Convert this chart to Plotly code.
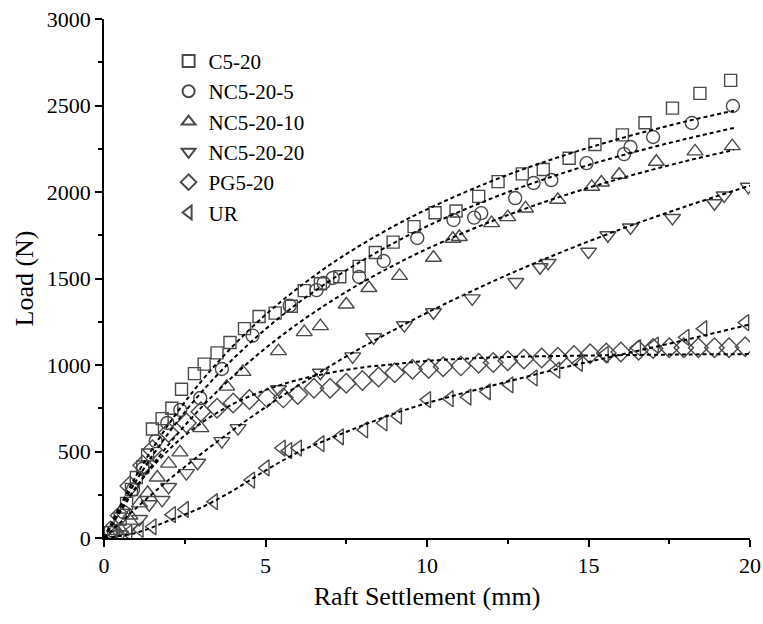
import plotly.graph_objects as go

# ---------------- data ----------------
series_names = ["C5-20", "NC5-20-5", "NC5-20-10", "NC5-20-20", "PG5-20", "UR"]

c5_x = [0.2, 0.5, 0.7, 0.85, 1.0, 1.2, 1.35, 1.5, 1.8, 2.1, 2.4, 2.8, 3.1, 3.5, 3.9, 4.35, 4.8,
        5.3, 5.8, 6.2, 6.7, 7.3, 7.9, 8.4, 8.95, 9.6, 10.25, 10.9, 11.6, 12.2, 12.95, 13.6, 14.4,
        15.2, 16.05, 16.75, 17.6, 18.45, 19.4]
c5_y = [30, 110, 200, 280, 350, 410, 480, 630, 690, 750, 860, 950, 1005, 1070, 1130, 1210, 1280,
        1300, 1340, 1430, 1470, 1510, 1570, 1650, 1710, 1800, 1880, 1890, 1975, 2060, 2105, 2130, 2195,
        2275, 2330, 2400, 2485, 2570, 2645]

nc5_x = [0.3, 0.6, 0.9, 1.2, 1.6, 1.96, 2.36, 2.98, 3.65, 4.6, 5.75, 6.58, 6.8, 7.08, 7.9, 8.66,
         9.7, 10.82, 11.46, 11.68, 12.73, 13.3, 13.85, 14.94, 16.1, 16.3, 17.0, 18.2, 19.47]
nc5_y = [40, 150, 280, 400, 560, 665, 740, 809, 977, 1170, 1343, 1433, 1474, 1503, 1509, 1601,
         1734, 1838, 1852, 1878, 1965, 2052, 2069, 2167, 2219, 2260, 2318, 2399, 2497]

nc10_x = [0.4, 0.8, 1.1, 1.35, 1.65, 2.0, 2.35, 3.0, 3.8, 4.3, 5.4, 6.2, 6.7, 7.5, 8.2, 9.15,
          10.2, 10.8, 11.0, 12.0, 12.5, 13.05, 14.05, 15.1, 15.4, 15.95, 17.1, 18.3, 19.45]
nc10_y = [40, 130, 200, 260, 350, 430, 495, 635, 875, 960, 1080, 1190, 1225, 1350, 1445, 1515,
          1620, 1730, 1740, 1820, 1855, 1905, 1955, 2030, 2055, 2100, 2175, 2235, 2265]

nc20_x = [0.5, 0.8, 1.1, 1.4, 1.8, 2.0, 2.55, 2.9, 3.65, 4.15, 5.4, 6.7, 7.7, 8.35, 9.3, 10.2,
          11.4, 12.75, 13.5, 13.75, 15.0, 15.6, 16.3, 17.6, 18.9, 19.2, 19.95]
nc20_y = [20, 60, 110, 195, 220, 295, 375, 435, 560, 635, 860, 955, 1050, 1160, 1230, 1305,
          1385, 1480, 1565, 1590, 1655, 1750, 1795, 1850, 1935, 1980, 2030]

pg_x = [0.2, 0.5, 0.8, 1.2, 1.5, 2.0, 2.55, 3.0, 3.5, 4.0, 4.5, 5.05, 5.55, 6.0, 6.5, 7.0, 7.5,
        8.0, 8.5, 9.0, 9.55, 10.05, 10.5, 11.05, 11.6, 12.05, 12.5, 13.0, 13.55, 14.05, 14.55,
        15.05, 15.55, 16.0, 16.55, 17.0, 17.5, 17.95, 18.4, 18.9, 19.35, 19.85]
pg_y = [40, 130, 300, 420, 510, 610, 665, 730, 750, 780, 800, 810, 810, 830, 865, 865, 895,
        910, 930, 955, 975, 980, 990, 995, 1010, 1015, 1025, 1035, 1040, 1045, 1055,
        1065, 1070, 1075, 1085, 1095, 1100, 1100, 1100, 1100, 1100, 1105]

ur_x = [0.3, 0.75, 1.1, 1.5, 2.1, 2.5, 3.4, 4.55, 5.0, 5.5, 5.7, 6.0, 6.7, 7.3, 8.05, 8.65, 9.1,
        10.0, 10.7, 11.25, 11.85, 12.55, 13.3, 14.0, 14.7, 15.5, 16.5, 17.05, 18.0, 18.55, 19.85]
ur_y = [10, 30, 50, 65, 135, 165, 210, 335, 405, 520, 505, 520, 545, 585, 625, 665, 705,
        800, 805, 815, 845, 885, 925, 970, 1010, 1060, 1100, 1115, 1160, 1210, 1245]

# fitted (dashed) curves, read at a few settlements
fit_x_a = [0, 1, 2, 3, 4, 5, 6, 7, 8, 9, 10, 12, 14, 16, 18, 19.5]
fit_c5_y = [0, 361, 657, 903, 1111, 1290, 1444, 1580, 1699, 1805, 1900, 2063, 2197, 2310, 2407, 2470]
fit_nc5_y = [0, 332, 607, 839, 1036, 1207, 1357, 1488, 1604, 1708, 1802, 1963, 2097, 2210, 2306, 2370]
fit_nc10_y = [0, 293, 540, 752, 936, 1097, 1239, 1365, 1478, 1579, 1671, 1831, 1965, 2079, 2178, 2243]
fit_x_b = [0, 1, 2, 3, 4, 5, 6, 7, 8, 9, 10, 12, 14, 16, 18, 20]
fit_nc20_y = [0, 174, 335, 485, 625, 756, 879, 994, 1103, 1205, 1302, 1480, 1640, 1785, 1916, 2037]
fit_pg_y = [0, 296, 509, 663, 775, 855, 914, 955, 986, 1005, 1024, 1043, 1052, 1057, 1061, 1063]
fit_ur_y = [0, 30, 100, 175, 275, 390, 495, 575, 650, 720, 780, 880, 975, 1060, 1145, 1235]

x_ticks = [0, 5, 10, 15, 20]
y_ticks = [0, 500, 1000, 1500, 2000, 2500, 3000]

# ---------------- figure ----------------
FONT = "Liberation Serif, Times New Roman, serif"
MCOL = "#4a4a4a"

marker_specs = [
    (c5_x, c5_y, "square-open", 12),
    (nc5_x, nc5_y, "circle-open", 13),
    (nc10_x, nc10_y, "triangle-up-open", 14),
    (nc20_x, nc20_y, "triangle-down-open", 14),
    (pg_x, pg_y, "diamond-open", 15),
    (ur_x, ur_y, "triangle-left-open", 14),
]
fits = [
    (fit_x_a, fit_c5_y), (fit_x_a, fit_nc5_y), (fit_x_a, fit_nc10_y),
    (fit_x_b, fit_nc20_y), (fit_x_b, fit_pg_y), (fit_x_b, fit_ur_y),
]

fig = go.Figure()
for name, (xs, ys, sym, sz) in zip(series_names, marker_specs):
    fig.add_trace(go.Scatter(
        x=xs, y=ys, mode="markers", name=name,
        marker=dict(symbol=sym, size=sz, color=MCOL, line=dict(width=1.4, color=MCOL)),
    ))
for fx, fy in fits:
    fig.add_trace(go.Scatter(
        x=fx, y=fy, mode="lines", showlegend=False, hoverinfo="skip",
        line=dict(color="black", width=2, dash="4px,3px", shape="spline", smoothing=1.0),
    ))

axis_common = dict(
    showgrid=False, zeroline=False, showline=True, linecolor="black", linewidth=1.5,
    ticks="outside", ticklen=7, tickwidth=1.5, tickcolor="black", automargin=False,
    ticklabeloverflow="allow",
    tickfont=dict(family=FONT, size=22, color="black"),
)
fig.update_xaxes(
    range=[0, 20], tickvals=x_ticks, ticktext=[str(v) for v in x_ticks],
    minor=dict(ticks="outside", ticklen=4, tickwidth=1.5, tickcolor="black", dtick=2.5, tick0=0),
    title=dict(text="Raft Settlement (mm)", font=dict(family=FONT, size=26, color="black"), standoff=10),
    **axis_common,
)
fig.update_yaxes(
    range=[0, 3000], tickvals=y_ticks, ticktext=[str(v) for v in y_ticks],
    minor=dict(ticks="outside", ticklen=4, tickwidth=1.5, tickcolor="black", dtick=250, tick0=0),
    title=dict(text="Load (N)", font=dict(family=FONT, size=26, color="black"), standoff=6),
    **axis_common,
)
fig.update_layout(
    width=763, height=624,
    margin=dict(l=104, r=13, t=19, b=86),
    paper_bgcolor="white", plot_bgcolor="white",
    font=dict(family=FONT, color="black"),
    legend=dict(
        x=0.10, y=0.958, xanchor="left", yanchor="top",
        bgcolor="rgba(0,0,0,0)", borderwidth=0,
        font=dict(family=FONT, size=21, color="black"),
        tracegroupgap=0, itemsizing="constant",
    ),
    showlegend=True,
)

# remove the default page margin so the figure fills the 763x624 window exactly
fig.write_html(
    "out.html",
    config={"displayModeBar": False},
    post_script="document.body.style.margin='0';document.body.style.overflow='hidden';",
)
